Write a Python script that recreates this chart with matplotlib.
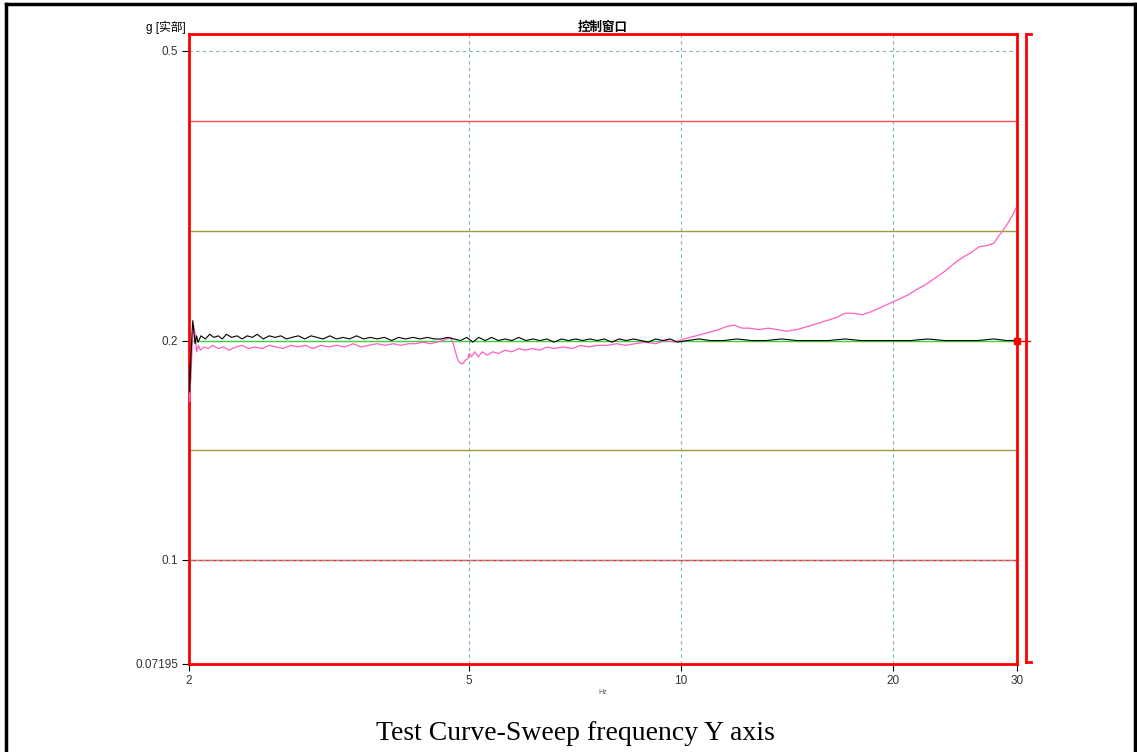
import numpy as np
import matplotlib
matplotlib.use("Agg")
from matplotlib import pyplot as plt
from matplotlib.lines import Line2D

plt.rcParams['font.family'] = ['Liberation Sans', 'Noto Sans CJK SC', 'DejaVu Sans']

# curva de respuesta (rosa)
pink_f = [2.000, 2.004, 2.008, 2.013, 2.020, 2.030, 2.040, 2.050, 2.062, 2.075,
          2.10, 2.13, 2.16, 2.20, 2.24, 2.28, 2.33, 2.38, 2.43, 2.48,
          2.54, 2.60, 2.66, 2.72, 2.79, 2.86, 2.93, 3.00, 3.08, 3.16,
          3.24, 3.33, 3.42, 3.51, 3.60, 3.70, 3.80, 3.90, 4.00, 4.10,
          4.20, 4.30, 4.40, 4.50, 4.58, 4.65, 4.70, 4.74, 4.78, 4.82,
          4.86, 4.90, 4.94, 4.98, 5.00, 5.04, 5.09, 5.15, 5.22, 5.30,
          5.40, 5.50, 5.62, 5.75, 5.88, 6.00, 6.15, 6.30, 6.45, 6.60,
          6.80, 7.00, 7.20, 7.40, 7.60, 7.85, 8.10, 8.35, 8.60, 8.90,
          9.20, 9.50, 9.80, 10.1, 10.5, 10.9, 11.3, 11.6, 11.9, 12.2,
          12.5, 12.9, 13.3, 13.7, 14.1, 14.6, 15.1, 15.6, 16.1, 16.6,
          17.1, 17.6, 18.1, 18.6, 19.2, 19.8, 20.4, 21.0, 21.6, 22.3,
          23.0, 23.7, 24.4, 25.1, 25.8, 26.5, 27.2, 27.8, 28.4, 29.0, 29.5, 29.9]
pink_v = [0.182, 0.165, 0.172, 0.178, 0.195, 0.210, 0.205, 0.193, 0.197, 0.194,
          0.196, 0.195, 0.197, 0.195, 0.196, 0.194, 0.196, 0.197, 0.195, 0.196,
          0.195, 0.197, 0.196, 0.195, 0.197, 0.196, 0.197, 0.195, 0.197, 0.196,
          0.197, 0.196, 0.198, 0.196, 0.197, 0.198, 0.197, 0.198, 0.197, 0.198,
          0.198, 0.199, 0.198, 0.199, 0.200, 0.201, 0.202, 0.199, 0.193, 0.188,
          0.186, 0.186, 0.188, 0.189, 0.192, 0.190, 0.193, 0.190, 0.193, 0.191,
          0.193, 0.192, 0.194, 0.193, 0.195, 0.194, 0.195, 0.194, 0.196, 0.195,
          0.196, 0.195, 0.197, 0.196, 0.197, 0.197, 0.198, 0.197, 0.198, 0.199,
          0.198, 0.200, 0.199, 0.201, 0.203, 0.205, 0.207, 0.209, 0.210, 0.208,
          0.208, 0.207, 0.208, 0.207, 0.206, 0.207, 0.209, 0.211, 0.213, 0.215,
          0.218, 0.218, 0.217, 0.219, 0.222, 0.225, 0.228, 0.231, 0.235, 0.239,
          0.244, 0.249, 0.255, 0.260, 0.264, 0.269, 0.270, 0.272, 0.280, 0.288, 0.296, 0.304]

# curva de control (negra)
black_f = [2.000, 2.004, 2.008, 2.013, 2.020, 2.025, 2.030, 2.040, 2.050, 2.060,
           2.08, 2.11, 2.14, 2.17, 2.20, 2.23, 2.26, 2.30, 2.34, 2.38,
           2.42, 2.46, 2.50, 2.55, 2.60, 2.65, 2.70, 2.75, 2.80, 2.86,
           2.92, 2.98, 3.04, 3.10, 3.17, 3.24, 3.31, 3.38, 3.46, 3.54,
           3.62, 3.70, 3.79, 3.88, 3.97, 4.06, 4.16, 4.26, 4.36, 4.46,
           4.56, 4.66, 4.76, 4.86, 4.96, 5.06, 5.16, 5.27, 5.38, 5.50,
           5.62, 5.75, 5.88, 6.02, 6.16, 6.30, 6.45, 6.60, 6.76, 6.92,
           7.08, 7.25, 7.42, 7.60, 7.78, 7.97, 8.16, 8.36, 8.56, 8.77,
           8.98, 9.20, 9.42, 9.65, 9.88, 10.2, 10.6, 11.0, 11.5, 12.0,
           12.6, 13.2, 13.9, 14.6, 15.4, 16.2, 17.1, 18.0, 19.0, 20.0,
           21.2, 22.4, 23.7, 25.0, 26.4, 27.8, 29.0, 30.0]
black_v = [0.185, 0.170, 0.178, 0.190, 0.205, 0.213, 0.208, 0.198, 0.203, 0.199,
           0.203, 0.201, 0.204, 0.202, 0.203, 0.201, 0.204, 0.202, 0.203, 0.201,
           0.203, 0.202, 0.204, 0.201, 0.203, 0.202, 0.203, 0.201, 0.202, 0.203,
           0.201, 0.203, 0.202, 0.201, 0.203, 0.201, 0.202, 0.201, 0.203, 0.201,
           0.202, 0.201, 0.202, 0.200, 0.202, 0.201, 0.202, 0.201, 0.202, 0.201,
           0.201, 0.202, 0.201, 0.200, 0.202, 0.199, 0.202, 0.200, 0.202, 0.200,
           0.201, 0.200, 0.202, 0.200, 0.201, 0.200, 0.201, 0.199, 0.201, 0.200,
           0.201, 0.200, 0.201, 0.200, 0.201, 0.199, 0.201, 0.200, 0.201, 0.200,
           0.199, 0.201, 0.200, 0.201, 0.199, 0.200, 0.201, 0.200, 0.200, 0.201,
           0.200, 0.200, 0.201, 0.200, 0.200, 0.200, 0.201, 0.200, 0.200, 0.200,
           0.200, 0.201, 0.200, 0.200, 0.200, 0.201, 0.200, 0.200]

# limites (abortar / alarma / referencia)
target = 0.2
alarm_hi, alarm_lo = 0.283, 0.1415
abort_hi, abort_lo = 0.4, 0.1

x_ticks = [2, 5, 10, 20, 30]
y_ticks = [0.07195, 0.1, 0.2, 0.5]
y_min, y_max = 0.07195, 0.527

fig = plt.figure(figsize=(11.37, 7.52), dpi=100)
ax = fig.add_axes([189 / 1137, 88 / 752, 828 / 1137, 630 / 752])

ax.set_xscale('log')
ax.set_yscale('log')
ax.set_xlim(2, 30)
ax.set_ylim(y_min, y_max)

# rejilla
grid_c = '#7fb5b5'
for xv in [5, 10, 20]:
    ax.axvline(xv, color=grid_c, lw=0.8, ls=(0, (3, 3)), zorder=1)
for yv in [0.5, 0.2, 0.1]:
    ax.axhline(yv, color=grid_c, lw=0.8, ls=(0, (3, 3)), zorder=1)

ax.axhline(abort_hi, color='#ff5050', lw=1.0, zorder=2)
ax.axhline(abort_lo, color='#ff3030', lw=1.0, zorder=2)
ax.axhline(abort_lo, color='#8a9a9a', lw=0.8, ls=(0, (3, 3)), zorder=2.5)
ax.axhline(alarm_hi, color='#a09a40', lw=1.0, zorder=2)
ax.axhline(alarm_lo, color='#a09a40', lw=1.0, zorder=2)
ax.axhline(target, color='#40d040', lw=1.0, zorder=2)

ax.plot(pink_f, pink_v, color='#ff5fc0', lw=0.9, zorder=3)
ax.plot(black_f, black_v, color='black', lw=0.8, zorder=4)

ax.plot([30], [target], marker='s', color='red', ms=5, clip_on=False, zorder=6)

for sp in ax.spines.values():
    sp.set_color('red')
    sp.set_linewidth(2)

ax.set_xticks(x_ticks)
ax.set_xticklabels([str(t) for t in x_ticks])
ax.xaxis.set_minor_locator(matplotlib.ticker.NullLocator())
ax.set_yticks(y_ticks)
ax.set_yticklabels(['0.07195', '0.1', '0.2', '0.5'])
ax.yaxis.set_minor_locator(matplotlib.ticker.NullLocator())
ax.tick_params(axis='both', colors='black', length=5, width=0.8, labelsize=8.5,
               labelcolor='#333333', pad=3)

ax.set_title('控制窗口', fontsize=9, fontweight='bold', style='italic',
             family=['Noto Sans CJK SC', 'DejaVu Sans'], pad=2)
fig.text(186 / 1137, 1 - 27 / 752, 'g [实部]', ha='right', va='center', fontsize=8.5,
         family=['Liberation Sans', 'Noto Sans CJK SC'])

# corchete rojo a la derecha y marcador
fx = 1026 / 1137
y0, y1 = 1 - 662 / 752, 1 - 34 / 752
fig.add_artist(Line2D([fx, fx], [y0, y1], color='red', lw=2))
fig.add_artist(Line2D([fx, fx + 5 / 1137], [y1, y1], color='red', lw=2))
fig.add_artist(Line2D([fx, fx + 5 / 1137], [y0, y0], color='red', lw=2))
fig.add_artist(Line2D([1017 / 1137, 1030 / 1137], [1 - 341 / 752, 1 - 341 / 752],
                      color='red', lw=1))

fig.text(603 / 1137, 1 - 692 / 752, 'Hz', ha='center', va='center', fontsize=5,
         color='#555555')

fig.text(575 / 1137, 1 - 734 / 752, 'Test Curve-Sweep frequency Y axis', ha='center',
         va='center', fontsize=20, family='Liberation Serif')

# marco exterior negro
fig.add_artist(Line2D([6 / 1137, 6 / 1137], [0, 1 - 4 / 752], color='black', lw=2.5))
fig.add_artist(Line2D([6 / 1137, 1], [1 - 4 / 752, 1 - 4 / 752], color='black', lw=2.5))
fig.add_artist(Line2D([1135 / 1137, 1135 / 1137], [0, 1 - 4 / 752], color='black', lw=2.5))

fig.savefig('out.png', dpi=100)
